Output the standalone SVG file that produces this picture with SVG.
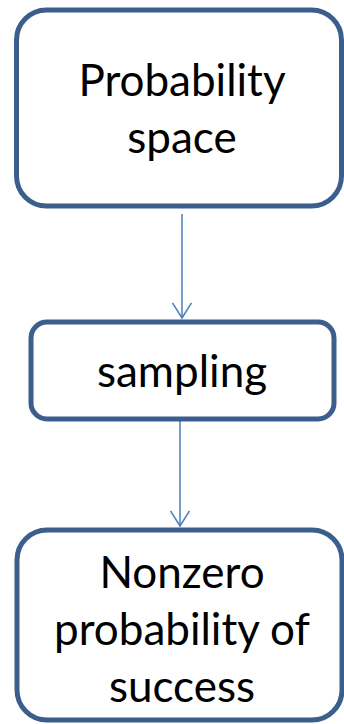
<svg xmlns="http://www.w3.org/2000/svg" width="344" height="724" viewBox="0 0 344 724">
<style>
.box{fill:#ffffff;stroke:#3B5E8C;stroke-width:5}
.lbl{font-family:Lato,"Open Sans","Liberation Sans",sans-serif;font-size:44px;fill:#000;text-anchor:middle}
.conn{stroke:#4A7EBB;stroke-width:1.5;fill:none}
</style>
<defs>
<marker id="arr" markerUnits="userSpaceOnUse" markerWidth="24" markerHeight="20" refX="20" refY="10" orient="auto" viewBox="0 0 24 20">
<path d="M5,0.5 L20,10 L5,19.5" fill="none" stroke="#4A7EBB" stroke-width="1.5"/>
</marker>
</defs>
<rect width="344" height="724" fill="#ffffff"/>
<g id="connectors">
<line class="conn" x1="182" y1="214" x2="182" y2="318" marker-end="url(#arr)"/>
<line class="conn" x1="180" y1="421" x2="180" y2="526" marker-end="url(#arr)"/>
</g>
<g id="node-probability-space">
<rect class="box" x="16.5" y="10" width="325" height="196" rx="30"/>
<text class="lbl" x="182" y="96">Probability</text>
<text class="lbl" x="182" y="153">space</text>
</g>
<g id="node-sampling">
<rect class="box" x="31" y="322" width="303" height="97" rx="16"/>
<text class="lbl" x="182" y="387">sampling</text>
</g>
<g id="node-nonzero">
<rect class="box" x="17" y="530" width="325" height="190" rx="30"/>
<text class="lbl" x="182" y="588">Nonzero</text>
<text class="lbl" x="182" y="645">probability of</text>
<text class="lbl" x="182" y="702">success</text>
</g>
</svg>
